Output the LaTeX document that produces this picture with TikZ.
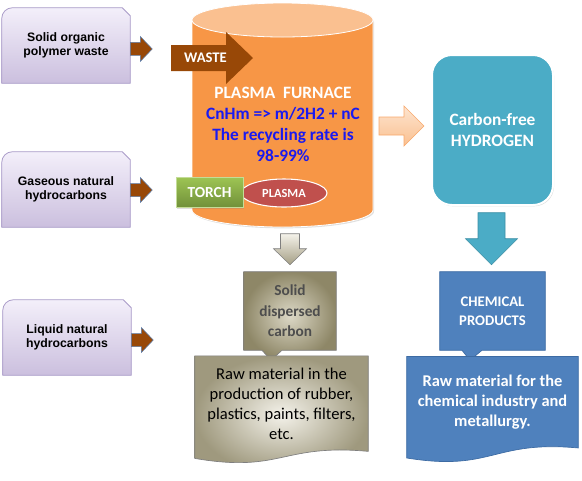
\documentclass[tikz,border=0pt]{standalone}
\usepackage{fontspec}
\setmainfont{Carlito}
\newfontfamily\arialfont{Liberation Sans}
\usepackage{xcolor}
\usepackage{tikz}
\usetikzlibrary{positioning,calc,shapes.geometric,backgrounds,shadows}
\definecolor{SrcTop}{HTML}{F3EFFA}
\definecolor{SrcBottom}{HTML}{CBBFDE}
\definecolor{SrcBorder}{HTML}{A99BC8}
\definecolor{WasteBrown}{HTML}{984807}
\definecolor{FeedBorder}{HTML}{5B7BA8}
\definecolor{FurnaceOrange}{HTML}{F79646}
\definecolor{FurnaceTop}{HTML}{FAC090}
\definecolor{FormulaBlue}{HTML}{1A1AF0}
\definecolor{TorchTop}{HTML}{9DC453}
\definecolor{TorchBottom}{HTML}{71903A}
\definecolor{PlasmaRed}{HTML}{C0504D}
\definecolor{HeatTop}{HTML}{FDE4CF}
\definecolor{HeatBottom}{HTML}{FAC090}
\definecolor{HeatBorder}{HTML}{F8A86B}
\definecolor{HydroTeal}{HTML}{4BACC6}
\definecolor{HydroBorder}{HTML}{3B8EA5}
\definecolor{ChemBlue}{HTML}{4F81BD}
\definecolor{ChemBorder}{HTML}{3D6BA3}
\definecolor{CarbonLight}{HTML}{F4F2EA}
\definecolor{CarbonMid}{HTML}{DCD8C6}
\definecolor{CarbonDark}{HTML}{8E8767}
\definecolor{CarbonText}{HTML}{4D4D4D}
\definecolor{CarbonBorder}{HTML}{7F7F7F}
\tikzset{
    srcbox/.style={minimum width=96pt, minimum height=56.25pt, inner sep=0pt, align=center, font=\arialfont\bfseries\fontsize{9.2}{10.5}\selectfont},
    srcfill/.style={top color=SrcTop, bottom color=SrcBottom, draw=SrcBorder, line width=0.6pt},
    feedarrow/.style={fill=WasteBrown, draw=FeedBorder, line width=0.4pt},
    labeltext/.style={text=white, font=\bfseries\fontsize{#1}{#1}\selectfont},
    calloutfill/.style={fill=ChemBlue, draw=ChemBorder, line width=0.5pt}
}

\begin{document}
\begin{tikzpicture}[x=0.75pt, y=0.75pt]
    \useasboundingbox (0,0) rectangle (582,-480);

    % Input boxes
    \node[srcbox] (solid) at (66,-45.5) {Solid organic\\polymer waste};
    \node[srcbox] (gaseous) at (66,-189.5) {Gaseous natural\\hydrocarbons};
    \node[srcbox] (liquid) at (67,-337.5) {Liquid natural\\hydrocarbons};
    \begin{scope}[on background layer]
        \foreach \src in {solid,gaseous,liquid}
            \path[srcfill] (\src.south west) -- ([yshift=-8pt]\src.north west) arc[start angle=180, end angle=90, radius=8pt]
                -- ([xshift=-6pt]\src.north east) -- ([yshift=-6pt]\src.north east) -- (\src.south east) -- cycle;
    \end{scope}
    % Feed arrows
    \foreach \src/\dy in {solid/-2.6, gaseous/-0.4, liquid/-1.9}
        \path[feedarrow] ([yshift=\dy pt]\src.east) ++(0,6.5) -- ++(10,0) -- ++(0,6) -- ++(12,-12.5)
            -- ++(-12,-12.5) -- ++(0,6) -- ++(-10,0) -- cycle;

    % Plasma furnace
    \fill[FurnaceOrange, drop shadow={opacity=0.25, shadow xshift=0.8pt, shadow yshift=-1pt}]
        (192,-20) -- (192,-210) arc[start angle=180, end angle=360, x radius=90.5, y radius=17] -- (373,-20) -- cycle;
    \draw[white, line width=0.6pt]
        (192,-20) -- (192,-210) arc[start angle=180, end angle=360, x radius=90.5, y radius=17] -- (373,-20);
    \draw[fill=FurnaceTop, draw=white, line width=0.6pt] (282.5,-20) ellipse[x radius=90.5, y radius=17];
    \coordinate (wastein) at (171,-58);
    \path[fill=WasteBrown] (wastein) ++(0,13) -- ++(55,0) -- ++(0,13) -- ++(27,-26) -- ++(-27,-26) -- ++(0,13)
        -- ++(-55,0) -- cycle;
    \node[labeltext=11] (waste) at (205.5,-58) {WASTE};
    \node[align=center, text=FormulaBlue, font=\bfseries\fontsize{13}{15.75}\selectfont] (furnace) at (283,-124)
        {\textcolor{white}{PLASMA\ \ FURNACE}\\CnHm => m/2H2 + nC\\The recycling rate is\\98-99\%};
    \node[ellipse, fill=PlasmaRed, draw=white, line width=0.8pt, minimum width=64.5pt, minimum height=21pt,
        inner sep=0pt, labeltext=9.3] (plasma) at (284,-193) {PLASMA};
    \node[top color=TorchTop, bottom color=TorchBottom, draw=TorchTop!60, line width=0.4pt,
        minimum width=50.25pt, minimum height=22.5pt, inner sep=0pt, labeltext=11.5,
        drop shadow={opacity=0.25, shadow xshift=0.8pt, shadow yshift=-0.8pt}] (torch) at (209.5,-192.5) {TORCH};

    % Hydrogen branch
    \node[rounded corners=15pt, fill=HydroTeal, draw=white, line width=1.5pt, minimum width=90.75pt, minimum height=112.5pt,
        align=center, labeltext=13, font=\bfseries\fontsize{13}{15.75}\selectfont,
        drop shadow={opacity=0.25, shadow xshift=0.8pt, shadow yshift=-1pt}] (hydrogen) at (492.5,-130) {Carbon-free\\HYDROGEN};
    \path[top color=HeatTop, bottom color=HeatBottom, draw=HeatBorder, line width=0.5pt]
        ([xshift=-5.25pt, yshift=3pt]hydrogen.west) -- ++(-20,20) -- ++(0,-11) -- ++(-25,0) -- ++(0,-18)
        -- ++(25,0) -- ++(0,-11) -- cycle;
    \node[minimum width=78.75pt, minimum height=58.5pt, inner sep=0pt, align=center,
        labeltext=11, font=\bfseries\fontsize{11}{14}\selectfont] (chem) at (492.5,-311) {CHEMICAL\\PRODUCTS};
    \path[fill=HydroTeal, draw=HydroBorder, line width=0.4pt]
        ([xshift=-0.75pt, yshift=5.25pt]chem.north) -- ++(-26,26) -- ++(12.5,0) -- ++(0,26) -- ++(27,0)
        -- ++(0,-26) -- ++(12.5,0) -- cycle;
    \node[minimum width=128.25pt, minimum height=68.25pt, inner sep=0pt, align=center,
        labeltext=12.3, font=\bfseries\fontsize{12.3}{15}\selectfont] (rawchem) at (492.5,-402.2)
        {Raw material for the\\chemical industry and\\metallurgy.};

    % Carbon branch
    \node[minimum width=69pt, minimum height=58.5pt, inner sep=0pt, align=center, text=CarbonText,
        font=\bfseries\fontsize{11.5}{15.5}\selectfont] (carbon) at (290,-311) {Solid\\dispersed\\carbon};
    \path[top color=CarbonLight, bottom color=CarbonDark!80, draw=CarbonBorder, line width=0.4pt]
        ([yshift=5.25pt]carbon.north) -- ++(-16.5,16) -- ++(7,0) -- ++(0,15) -- ++(19,0) -- ++(0,-15)
        -- ++(7,0) -- cycle;
    \node[minimum width=129.75pt, minimum height=71.25pt, inner sep=0pt, align=center,
        font=\fontsize{12.4}{15}\selectfont] (rawcarbon) at (281.5,-403.6)
        {Raw material in the\\production of rubber,\\plastics, paints, filters,\\etc.};

    \begin{scope}[on background layer]
        \path[calloutfill] (chem.north west) -- (chem.north east) -- (chem.south east) -- ([xshift=-7.9pt]chem.south)
            -- ([xshift=-16.9pt, yshift=-7.5pt]chem.south) -- ([xshift=-22.9pt]chem.south) -- (chem.south west) -- cycle;
        \path[calloutfill] (rawchem.north west) -- (rawchem.north east) -- (rawchem.south east)
            .. controls ([yshift=6pt]rawchem.south) and ([yshift=-18pt]rawchem.south) .. ([yshift=-7.5pt]rawchem.south west) -- cycle;
        \path[inner color=CarbonMid, outer color=CarbonDark, draw=CarbonBorder, line width=0.5pt]
            (carbon.north west) -- (carbon.north east) -- (carbon.south east) -- ([xshift=-6pt]carbon.south)
            -- ([xshift=-14.25pt, yshift=-7.5pt]carbon.south) -- ([xshift=-21pt]carbon.south) -- (carbon.south west) -- cycle;
        \path[inner color=CarbonLight, outer color=CarbonDark!85!white, draw=CarbonBorder, line width=0.5pt]
            (rawcarbon.north west) -- (rawcarbon.north east) -- (rawcarbon.south east)
            .. controls ([yshift=6pt]rawcarbon.south) and ([yshift=-16.5pt]rawcarbon.south) .. ([yshift=-5.25pt]rawcarbon.south west) -- cycle;
    \end{scope}
\end{tikzpicture}
\end{document}
